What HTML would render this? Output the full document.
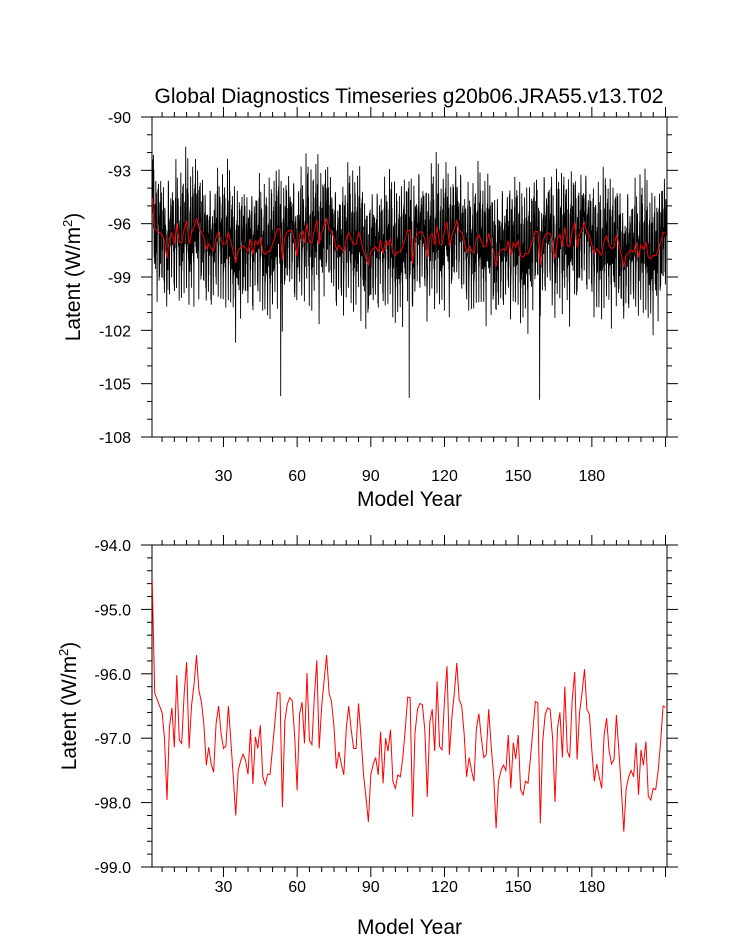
<!DOCTYPE html>
<html><head><meta charset="utf-8"><style>
html,body{margin:0;padding:0;background:#fff;}
svg text{font-family:"Liberation Sans",Arial,sans-serif;fill:#000;}
</style></head><body>
<svg id="chart" width="733" height="945" viewBox="0 0 733 945" xmlns="http://www.w3.org/2000/svg">
<defs>
<clipPath id="clipT"><rect x="152" y="117" width="515" height="320"/></clipPath>
<clipPath id="clipB"><rect x="152" y="545" width="515" height="322"/></clipPath>
</defs>
<text x="409" y="103" font-size="21" text-anchor="middle">Global Diagnostics Timeseries g20b06.JRA55.v13.T02</text>
<g id="topPanel"></g>
<g id="botPanel"></g>
</svg>
<script>
const annualValues=[-94.54,-96.30,-96.40,-96.50,-96.60,-97.00,-97.96,-96.83,-96.53,-97.14,-96.02,-97.03,-97.08,-96.30,-95.82,-97.16,-96.50,-96.17,-95.71,-96.26,
-96.44,-96.77,-97.42,-97.14,-97.40,-97.53,-96.77,-96.50,-96.92,-97.16,-97.12,-96.50,-97.03,-97.60,-98.20,-97.50,-97.35,-97.25,-97.35,-97.56,
-96.86,-97.71,-96.98,-97.16,-96.80,-97.60,-97.72,-97.56,-97.56,-97.14,-96.73,-96.29,-96.30,-98.07,-96.73,-96.47,-96.37,-96.42,-96.98,-97.81,
-96.62,-96.44,-97.08,-95.99,-97.03,-97.10,-96.37,-95.79,-97.16,-96.50,-96.09,-95.71,-96.30,-96.43,-96.82,-97.47,-97.21,-97.40,-97.57,-96.85,
-96.50,-96.87,-97.16,-97.16,-96.46,-96.98,-97.56,-97.91,-98.30,-97.56,-97.40,-97.30,-97.57,-96.90,-97.70,-97.00,-97.20,-96.87,-97.67,-97.78,
-97.57,-97.60,-97.32,-96.87,-96.36,-96.37,-98.22,-96.92,-96.55,-96.46,-96.48,-96.87,-97.91,-96.75,-96.55,-97.20,-96.12,-97.13,-97.18,-96.40,
-95.88,-97.26,-96.68,-96.30,-95.83,-96.40,-96.50,-96.92,-97.60,-97.30,-97.50,-97.67,-96.85,-96.62,-97.00,-97.30,-97.26,-96.55,-97.13,-97.57,
-98.40,-97.67,-97.50,-97.42,-97.50,-96.95,-97.78,-97.07,-97.32,-96.95,-97.80,-97.88,-97.67,-97.70,-97.30,-96.87,-96.43,-96.45,-98.32,-97.05,
-96.63,-96.53,-96.55,-97.00,-97.99,-96.85,-96.60,-97.30,-96.20,-97.20,-97.30,-96.40,-95.97,-97.33,-96.60,-96.30,-95.93,-96.55,-96.63,-97.18,
-97.67,-97.40,-97.60,-97.78,-96.95,-96.69,-97.18,-97.40,-97.33,-96.64,-97.20,-97.78,-98.45,-97.78,-97.60,-97.50,-97.60,-97.07,-97.88,-97.18,
-97.42,-97.05,-97.90,-97.96,-97.78,-97.80,-97.50,-97.06,-96.50,-96.52];
const seasonalCycle=[1.5,2.5,0.5,-1.0,-2.0,-3.0,-1.5,0.0,1.0,0.5,-0.5,2.0];
const monthlyJitter=[0.8,-0.6,1.4,-1.1,0.3,-1.8,0.9,0.2,-0.9,1.7,-0.4,0.6,-1.3,1.1,-0.2,-0.7,1.9];
const spikeYears=[53.3,105.6,158.7];
const spikeValues=[-105.7,-105.8,-105.9];
const xTicks=[30,60,90,120,150,180];
const topYTicks=[-90,-93,-96,-99,-102,-105,-108];
const botYTicks=[-94,-95,-96,-97,-98,-99];

const NS="http://www.w3.org/2000/svg";
function mk(p,tag,attrs){const e=document.createElementNS(NS,tag);for(const k in attrs)e.setAttribute(k,attrs[k]);p.appendChild(e);return e;}
const X0=152,X1=667,XMIN=0.9,XMAX=210.6;
function xs(v){return X0+(v-XMIN)/(XMAX-XMIN)*(X1-X0);}

function panel(g,Y0,Y1,ymin,ymax,yticks,minorStep,fmt,labelY,xlabY,xtitleY){
  const ys=v=>Y0+(ymax-v)/(ymax-ymin)*(Y1-Y0);
  const frame=mk(g,'rect',{x:X0,y:Y0,width:X1-X0,height:Y1-Y0,fill:'none',stroke:'#000','stroke-width':1});
  
  
  for(let v=5;v<=XMAX;v+=5){
    const major=v%30===0,L=major?10:5,x=xs(v);
    const t1=mk(g,'line',{x1:x,x2:x,y1:Y1,y2:Y1+L,stroke:'#000'});
    
    
    const t2=mk(g,'line',{x1:x,x2:x,y1:Y0,y2:Y0-L,stroke:'#000'});
    
    
  }
  xTicks.forEach(v=>{const t=mk(g,'text',{x:xs(v),y:xlabY,'font-size':16,'text-anchor':'middle'});t.textContent=v;
    
    });
  const n=Math.round((ymax-ymin)/minorStep);
  for(let i=0;i<=n;i++){
    const v=ymin+i*minorStep,y=ys(v);
    const major=yticks.some(t=>Math.abs(t-v)<1e-6),L=major?11:5;
    const a=mk(g,'line',{x1:X0-L,x2:X0,y1:y,y2:y,stroke:'#000'});
    
    
    const b=mk(g,'line',{x1:X1,x2:X1+L,y1:y,y2:y,stroke:'#000'});
    
    
  }
  yticks.forEach(v=>{const t=mk(g,'text',{x:X0-21,y:ys(v)+6,'font-size':16,'text-anchor':'end'});t.textContent=fmt(v);
    
    });
  const yt=mk(g,'text',{x:0,y:0,'font-size':21,'text-anchor':'middle',transform:`translate(${labelY},${(Y0+Y1)/2}) rotate(-90)`});
  yt.innerHTML='Latent (W/m<tspan font-size="13" dy="-8">2</tspan><tspan dy="8">)</tspan>';
  
  
  const xt=mk(g,'text',{x:(X0+X1)/2,y:xtitleY,'font-size':21,'text-anchor':'middle'});xt.textContent='Model Year';
  
  
  return ys;
}

const topG=document.getElementById('topPanel'),botG=document.getElementById('botPanel');
const ysT=panel(topG,117,437,-108,-90,topYTicks,1,v=>String(v),80,481,506);
const ysB=panel(botG,545,867,-99,-94,botYTicks,0.2,v=>v.toFixed(1),76,892,934);

let pts=[];
for(let y=0;y<annualValues.length;y++){
  for(let m=0;m<12;m++){
    const t=y+1+(m-5.5)/12;
    let v=annualValues[y]+seasonalCycle[m]*0.9+monthlyJitter[(y*12+m)%monthlyJitter.length];
    spikeYears.forEach((sy,i)=>{if(Math.abs(t-sy)<0.05)v=spikeValues[i];});
    pts.push(xs(t).toFixed(1)+','+ysT(v).toFixed(1));
  }
}
const blk=mk(topG,'polyline',{points:pts.join(' '),fill:'none',stroke:'#000','stroke-width':0.9,'clip-path':'url(#clipT)'});



function annualLine(g,ys,w,name,clip){
  const p=annualValues.map((v,i)=>xs(i+1).toFixed(1)+','+ys(v).toFixed(1)).join(' ');
  const l=mk(g,'polyline',{points:p,fill:'none',stroke:'#f00','stroke-width':w,'clip-path':clip});
  
  
}
annualLine(topG,ysT,1,'annual-mean-series-top','url(#clipT)');
annualLine(botG,ysB,1,'annual-mean-series','url(#clipB)');
</script>
</body></html>
